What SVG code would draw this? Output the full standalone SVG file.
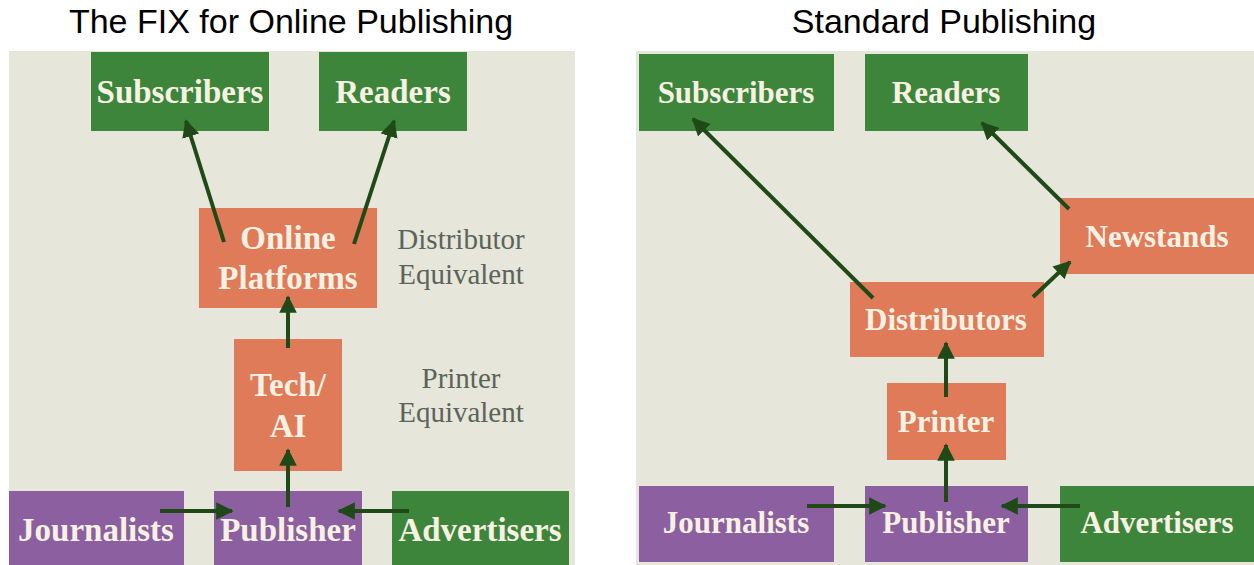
<svg xmlns="http://www.w3.org/2000/svg" width="1254" height="565" viewBox="0 0 1254 565">
<defs>
<style>
.title{font-family:"Liberation Sans",Arial,sans-serif;font-size:34px;fill:#000;text-anchor:middle}
.panel{fill:#e7e6db}
.g{fill:#3d853b}
.o{fill:#e07b5a}
.p{fill:#8c5fa1}
.lbl{font-family:"Liberation Serif","Times New Roman",serif;font-weight:bold;fill:#f6f1e2;text-anchor:middle}
.l33{font-size:33px}
.l31{font-size:31px}
.side{font-family:"Liberation Serif","Times New Roman",serif;font-size:29px;fill:#5a6458;text-anchor:middle}
.arr{stroke:#1f4a18;stroke-width:4;fill:none;marker-end:url(#ah)}
</style>
<marker id="ah" viewBox="0 0 10 10" refX="9" refY="5" markerWidth="4.4" markerHeight="4.4" markerUnits="strokeWidth" orient="auto">
<path d="M0,0 L10,5 L0,10 z" fill="#1f4a18"/>
</marker>
</defs>
<rect width="1254" height="565" fill="#ffffff"/>
<text class="title" x="291" y="33">The FIX for Online Publishing</text>
<text class="title" x="944" y="33">Standard Publishing</text>
<rect class="panel" x="9" y="51" width="566" height="514"/>
<rect class="panel" x="636" y="51" width="618" height="514"/>

<!-- Left panel nodes -->
<g id="L-subscribers"><rect class="g" x="91" y="52" width="178" height="79"/><text class="lbl l33" x="180" y="103">Subscribers</text></g>
<g id="L-readers"><rect class="g" x="319" y="52" width="148" height="79"/><text class="lbl l33" x="393" y="103">Readers</text></g>
<g id="L-online"><rect class="o" x="199" y="208" width="178" height="100"/><text class="lbl l33" x="288" y="249">Online</text><text class="lbl l33" x="288" y="289">Platforms</text></g>
<g id="L-distributor-note"><text class="side" x="461" y="249">Distributor</text><text class="side" x="461" y="284">Equivalent</text></g>
<g id="L-tech"><rect class="o" x="234" y="339" width="108" height="132"/><text class="lbl l33" x="288" y="396">Tech/</text><text class="lbl l33" x="288" y="437">AI</text></g>
<g id="L-printer-note"><text class="side" x="461" y="388">Printer</text><text class="side" x="461" y="422">Equivalent</text></g>
<g id="L-journalists"><rect class="p" x="9" y="491" width="175" height="74"/><text class="lbl l33" x="96" y="541">Journalists</text></g>
<g id="L-publisher"><rect class="p" x="214" y="491" width="148" height="74"/><text class="lbl l33" x="288" y="541">Publisher</text></g>
<g id="L-advertisers"><rect class="g" x="392" y="491" width="177" height="74"/><text class="lbl l33" x="480" y="541">Advertisers</text></g>

<!-- Right panel nodes -->
<g id="R-subscribers"><rect class="g" x="639" y="54" width="195" height="77"/><text class="lbl l31" x="736" y="103">Subscribers</text></g>
<g id="R-readers"><rect class="g" x="865" y="54" width="163" height="77"/><text class="lbl l31" x="946" y="103">Readers</text></g>
<g id="R-newstands"><rect class="o" x="1060" y="198" width="194" height="76"/><text class="lbl l31" x="1157" y="247">Newstands</text></g>
<g id="R-distributors"><rect class="o" x="850" y="282" width="194" height="75"/><text class="lbl l31" x="946" y="330">Distributors</text></g>
<g id="R-printer"><rect class="o" x="887" y="383" width="119" height="77"/><text class="lbl l31" x="946" y="432">Printer</text></g>
<g id="R-journalists"><rect class="p" x="639" y="486" width="195" height="76"/><text class="lbl l31" x="736" y="533">Journalists</text></g>
<g id="R-publisher"><rect class="p" x="865" y="486" width="163" height="76"/><text class="lbl l31" x="946" y="533">Publisher</text></g>
<g id="R-advertisers"><rect class="g" x="1060" y="486" width="194" height="76"/><text class="lbl l31" x="1157" y="533">Advertisers</text></g>

<g id="connectors">
<line class="arr" x1="224" y1="242" x2="186" y2="121"/>
<line class="arr" x1="354" y1="244" x2="394" y2="121"/>
<line class="arr" x1="288" y1="348" x2="288" y2="297"/>
<line class="arr" x1="288" y1="507" x2="288" y2="450"/>
<line class="arr" x1="160" y1="511" x2="232" y2="511"/>
<line class="arr" x1="409" y1="511" x2="339" y2="511"/>

<line class="arr" x1="873" y1="298" x2="693" y2="119"/>
<line class="arr" x1="1069" y1="209" x2="982" y2="123"/>
<line class="arr" x1="1033" y1="297" x2="1070" y2="262"/>
<line class="arr" x1="946" y1="397" x2="946" y2="343"/>
<line class="arr" x1="946" y1="502" x2="946" y2="445"/>
<line class="arr" x1="807" y1="506" x2="885" y2="506"/>
<line class="arr" x1="1080" y1="506" x2="1002" y2="506"/>
</g>
</svg>
